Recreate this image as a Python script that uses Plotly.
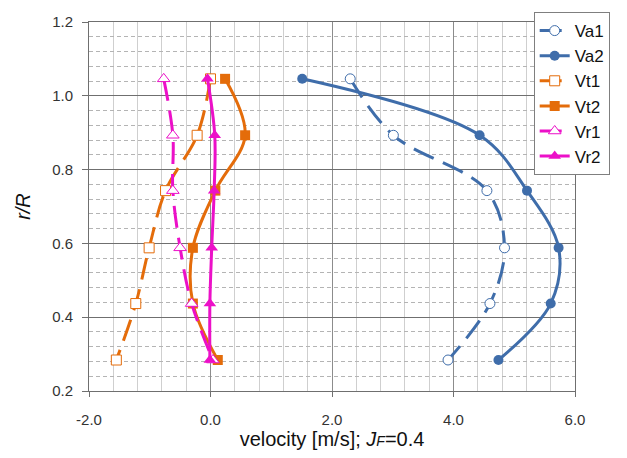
import plotly.graph_objects as go

# radial positions r/R
r_over_R = [1.046, 0.893, 0.743, 0.588, 0.437, 0.284]

# velocity components [m/s]
va1 = [2.30, 3.01, 4.55, 4.84, 4.60, 3.91]
va2 = [1.51, 4.43, 5.21, 5.73, 5.60, 4.74]
vt1 = [0.00, -0.22, -0.74, -1.01, -1.23, -1.55]
vt2 = [0.24, 0.57, 0.08, -0.29, -0.29, 0.12]
vr1 = [-0.77, -0.62, -0.62, -0.50, -0.31, 0.04]
vr2 = [-0.05, 0.07, 0.06, 0.02, -0.01, -0.01]

x_ticks = [-2, 0, 2, 4, 6]
x_tick_text = ["-2.0", "0.0", "2.0", "4.0", "6.0"]

BLUE = "#3F6DAA"
ORANGE = "#E46C0A"
MAGENTA = "#EC10C8"
DASH = "22px,10px"

series = [
    ("Va1", va1, BLUE, "circle", True),
    ("Va2", va2, BLUE, "circle", False),
    ("Vt1", vt1, ORANGE, "square", True),
    ("Vt2", vt2, ORANGE, "square", False),
    ("Vr1", vr1, MAGENTA, "triangle-up", True),
    ("Vr2", vr2, MAGENTA, "triangle-up", False),
]

fig = go.Figure()
for name, xs, color, symbol, is_open in series:
    fig.add_trace(go.Scatter(
        x=xs, y=r_over_R, name=name, mode="lines+markers",
        line=dict(color=color, width=3, shape="spline", smoothing=1,
                  dash=DASH if is_open else "solid"),
        marker=dict(symbol=symbol, size=10 if symbol != "triangle-up" else 11,
                    color="white" if is_open else color,
                    line=dict(color=color, width=1 if is_open else 0)),
    ))

fig.update_layout(
    width=627, height=458,
    margin=dict(l=89, r=52, t=20, b=65),
    paper_bgcolor="white", plot_bgcolor="white",
    font=dict(family="Liberation Sans, Arial, sans-serif", color="#222"),
    showlegend=True,
    legend=dict(x=0.915, y=1.027, xanchor="left", yanchor="top",
                bgcolor="white", bordercolor="#7f7f7f", borderwidth=1,
                font=dict(size=17, color="#111"), tracegroupgap=0,
                itemwidth=30),
)

fig.update_xaxes(
    range=[-2, 6], tickvals=x_ticks, ticktext=x_tick_text,
    showgrid=True, gridcolor="#8c8c8c", gridwidth=1,
    minor=dict(dtick=0.4, tick0=0, showgrid=True, gridcolor="#cfcfcf", gridwidth=1),
    zeroline=False, showline=True, linecolor="#6f6f6f", linewidth=1, mirror=True,
    ticks="outside", ticklen=5, tickcolor="#6f6f6f", ticklabelstandoff=10,
    tickfont=dict(size=15, color="#333"),
    title=dict(text="velocity [m/s]; <i>J<span style='font-size:14px'>F</span></i>=0.4",
               font=dict(size=20, color="#111"), standoff=4),
)
fig.update_yaxes(
    range=[0.2, 1.2], dtick=0.2, tick0=0.2, tickformat=".1f",
    showgrid=True, gridcolor="#6f6f6f", gridwidth=1,
    minor=dict(dtick=0.04, tick0=0.2, showgrid=True, gridcolor="#b4b4b4",
               gridwidth=1, griddash="4px,3px"),
    zeroline=False, showline=True, linecolor="#6f6f6f", linewidth=1, mirror=True,
    ticks="outside", ticklen=6, tickcolor="#6f6f6f", ticklabelstandoff=6,
    tickfont=dict(size=15, color="#333"),
    title=dict(text="<i>r/R</i>", font=dict(size=20, color="#111"), standoff=16),
)

fig.write_html("out.html")
